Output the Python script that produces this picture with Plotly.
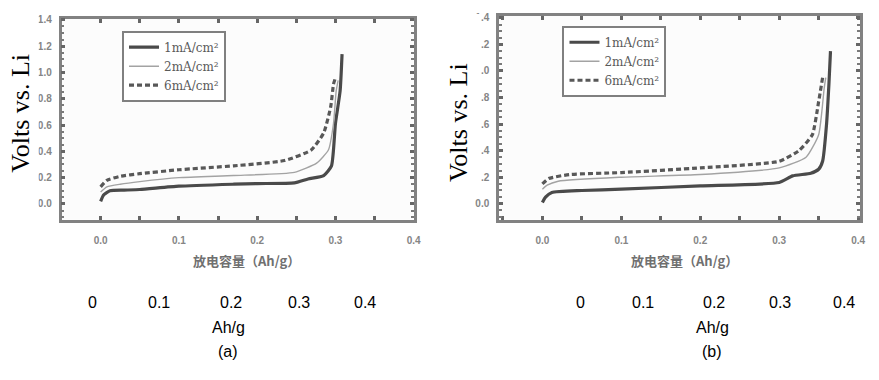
import plotly.graph_objects as go

W, H = 879, 380

# ---------------- data ----------------
series_names = ["1mA/cm²", "2mA/cm²", "6mA/cm²"]

# panel (a)
a_x_1mA = [0.0, 0.004, 0.012, 0.03, 0.05, 0.1, 0.17, 0.2, 0.2475, 0.265, 0.285, 0.295, 0.30, 0.306, 0.3085]
a_y_1mA = [0.02, 0.07, 0.10, 0.105, 0.11, 0.135, 0.15, 0.155, 0.16, 0.19, 0.216, 0.29, 0.61, 0.86, 1.14]
a_x_2mA = [0.0, 0.008, 0.025, 0.05, 0.1, 0.17, 0.2475, 0.276, 0.291, 0.2975, 0.301, 0.3035]
a_y_2mA = [0.09, 0.13, 0.15, 0.17, 0.2, 0.216, 0.24, 0.31, 0.41, 0.61, 0.86, 0.94]
a_x_6mA = [0.0, 0.008, 0.025, 0.05, 0.1, 0.17, 0.235, 0.269, 0.285, 0.294, 0.2975, 0.2995]
a_y_6mA = [0.13, 0.18, 0.21, 0.23, 0.26, 0.29, 0.33, 0.41, 0.54, 0.74, 0.91, 0.95]

# panel (b)
b_x_1mA = [0.0, 0.004, 0.012, 0.05, 0.1, 0.2, 0.3, 0.317, 0.34, 0.35, 0.355, 0.36, 0.363, 0.365]
b_y_1mA = [0.01, 0.05, 0.085, 0.10, 0.11, 0.135, 0.16, 0.21, 0.23, 0.26, 0.32, 0.60, 0.90, 1.15]
b_x_2mA = [0.0, 0.006, 0.02, 0.1, 0.2, 0.3, 0.334, 0.35, 0.357, 0.359]
b_y_2mA = [0.11, 0.14, 0.17, 0.20, 0.22, 0.27, 0.35, 0.52, 0.87, 0.95]
b_x_6mA = [0.0, 0.008, 0.034, 0.1, 0.2, 0.3, 0.325, 0.342, 0.35, 0.355]
b_y_6mA = [0.15, 0.19, 0.22, 0.235, 0.27, 0.32, 0.40, 0.52, 0.77, 0.95]

x_tick_vals = [0.0, 0.1, 0.2, 0.3, 0.4]
x_tick_text = ["0.0", "0.1", "0.2", "0.3", "0.4"]
y_tick_vals = [0.0, 0.2, 0.4, 0.6, 0.8, 1.0, 1.2, 1.4]
y_tick_text = ["0.0", "0.2", "0.4", "0.6", "0.8", "1.0", "1.2", "1.4"]
bottom_tick_text = ["0", "0.1", "0.2", "0.3", "0.4"]
x_title_cn = "放电容量（Ah/g）"
y_title = "Volts vs. Li"
unit_label = "Ah/g"
panel_labels = ["(a)", "(b)"]

# ---------------- helpers ----------------
def px(x):
    return x / W

def py(y):
    return 1 - y / H

styles = [
    dict(color="#4a4a4a", width=3.2),
    dict(color="#a3a3a3", width=1.4),
    dict(color="#585858", width=3.2, dash="5px,3px"),
]

fig = go.Figure()

panels = [
    ("x", "y", "legend", [(a_x_1mA, a_y_1mA), (a_x_2mA, a_y_2mA), (a_x_6mA, a_y_6mA)]),
    ("x2", "y2", "legend2", [(b_x_1mA, b_y_1mA), (b_x_2mA, b_y_2mA), (b_x_6mA, b_y_6mA)]),
]
for xa, ya, lg, data in panels:
    for name, (xs, ys), st in zip(series_names, data, styles):
        fig.add_trace(go.Scatter(
            x=xs, y=ys, mode="lines", name=name, xaxis=xa, yaxis=ya,
            legend=lg, line=dict(shape="spline", smoothing=0.5, **st),
        ))

tickfont = dict(family="Liberation Sans", size=10, color="#858585", weight="bold")
frame = "#828282"

def xaxis(domain, rng, anchor):
    return dict(
        domain=domain, range=rng, anchor=anchor,
        tickmode="array", tickvals=x_tick_vals, ticktext=x_tick_text,
        ticks="inside", ticklen=4, tickwidth=2.5, tickcolor="#666666",
        minor=dict(dtick=0.05, tick0=0, ticks="inside", ticklen=4, tickwidth=2.5, tickcolor="#666666"),
        showline=True, linecolor=frame, linewidth=2.5, mirror="allticks",
        showgrid=False, zeroline=False, tickfont=tickfont, ticklabelstandoff=10,
    )

def yaxis(domain, rng, anchor):
    return dict(
        domain=domain, range=rng, anchor=anchor,
        tickmode="array", tickvals=y_tick_vals, ticktext=y_tick_text,
        ticks="inside", ticklen=4, tickwidth=2.5, tickcolor="#666666",
        minor=dict(dtick=0.05, tick0=0, ticks="inside", ticklen=3, tickwidth=2, tickcolor="#7a7a7a"),
        showline=True, linecolor=frame, linewidth=2.5, mirror="allticks",
        showgrid=False, zeroline=False, tickfont=tickfont, ticklabelstandoff=5,
    )

legend_common = dict(
    bgcolor="white", bordercolor="#808080", borderwidth=2,
    font=dict(family="DejaVu Serif", size=12, color="#5a5a5a"),
    xanchor="left", yanchor="top", tracegroupgap=0, itemwidth=30,
)

fig.update_layout(
    width=W, height=H,
    margin=dict(l=0, r=0, t=0, b=0),
    paper_bgcolor="white", plot_bgcolor="#fcfcfc",
    xaxis=xaxis([px(62), px(417)], [-0.05, 0.4], "y"),
    yaxis=yaxis([py(218), py(15)], [-0.12, 1.408], "x"),
    xaxis2=xaxis([px(503), px(867)], [-0.055, 0.4025], "y2"),
    yaxis2=yaxis([py(218), py(12)], [-0.12, 1.415], "x2"),
    legend=dict(x=px(123), y=py(27), **legend_common),
    legend2=dict(x=px(567), y=py(22), **legend_common),
    showlegend=True,
)

# white cover boxes for the overlaid y title
fig.add_shape(type="rect", xref="paper", yref="paper", x0=px(0), x1=px(39), y0=py(213), y1=py(10),
              fillcolor="white", line_width=0, layer="above")
fig.add_shape(type="rect", xref="paper", yref="paper", x0=px(440), x1=px(485), y0=py(190), y1=py(10),
              fillcolor="white", line_width=0, layer="above")

ann = []

def text(t, x, y, font, angle=0):
    ann.append(dict(text=t, x=px(x), y=py(y), xref="paper", yref="paper", textangle=angle,
                    showarrow=False, font=font, xanchor="center", yanchor="middle"))

serif = dict(family="Liberation Serif", size=26, color="black")
text(y_title, 21, 110, serif, -90)
text(y_title, 462, 120, serif, -90)

cnfont = dict(family="Noto Sans CJK SC", size=13, color="#707070", weight="bold")
text(x_title_cn, 248, 259, cnfont)
text(x_title_cn, 690, 259, cnfont)

sans = dict(family="Liberation Sans", size=16, color="black")
bottom_a = [93, 160, 233, 301, 368]
bottom_b = [585, 648, 720, 786, 851]
for xs in (bottom_a, bottom_b):
    for t, xp in zip(bottom_tick_text, xs):
        text(t, xp, 302, sans)
for lab, xc in zip(panel_labels, (230, 718)):
    text(unit_label, xc, 327, sans)
    text(lab, xc, 351, sans)

fig.update_layout(annotations=ann)
fig.write_html("out.html", config={"displayModeBar": False},
               post_script="document.body.style.margin='0';document.body.style.padding='0';")
